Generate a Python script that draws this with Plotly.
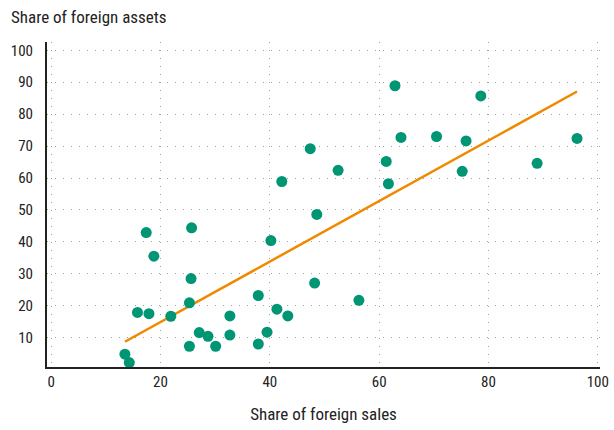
import plotly.graph_objects as go

sales = [13.5, 14.3, 15.8, 17.9, 17.4, 18.8, 21.9, 25.3, 25.3, 25.6, 25.7, 27.1,
         28.7, 30.1, 32.7, 32.7, 37.9, 37.9, 39.5, 40.2, 41.3, 43.3,
         48.6, 48.2, 56.3,
         62.9, 78.6, 47.4, 52.5, 64.0, 70.5, 75.9, 96.2, 61.3, 61.7, 75.2, 88.9,
         42.2]
assets = [4.8, 2.2, 17.9, 17.5, 42.9, 35.5, 16.7, 7.3, 20.9, 28.5, 44.4, 11.6,
          10.4, 7.3, 16.8, 10.8, 23.2, 8.0, 11.7, 40.4, 18.9, 16.8,
          48.6, 27.1, 21.7,
          88.9, 85.7, 69.2, 62.4, 72.7, 73.0, 71.6, 72.4, 65.2, 58.2, 62.1, 64.6,
          58.9]
trend_x = [13.5, 96.2]
trend_y = [8.7, 87.1]
x_ticks = [0, 20, 40, 60, 80, 100]
y_ticks = [10, 20, 30, 40, 50, 60, 70, 80, 90, 100]

FONT = "Roboto Condensed, Liberation Sans Narrow, sans-serif"

fig = go.Figure()
fig.add_trace(go.Scatter(x=trend_x, y=trend_y, mode="lines",
                         line=dict(color="#EF8A00", width=2.5), hoverinfo="skip"))
fig.add_trace(go.Scatter(x=sales, y=assets, mode="markers",
                         marker=dict(color="#009673", size=11, line=dict(width=0))))

grid = dict(showgrid=True, gridcolor="#a0a0a0", gridwidth=1, griddash="1px,7px")
fig.update_xaxes(range=[-0.75, 100.4], tickvals=x_ticks, ticks="", zeroline=False,
                 showline=True, linecolor="#222", linewidth=2, automargin=False,
                 tickfont=dict(size=15, color="#222", family=FONT),
                 title=dict(text="Share of foreign sales", font=dict(size=17, color="#222", family=FONT),
                            standoff=18),
                 **grid)
fig.update_yaxes(range=[0.8, 102.6], tickvals=y_ticks, ticks="", zeroline=False,
                 showline=True, linecolor="#222", linewidth=2, automargin=False,
                 tickfont=dict(size=15, color="#222", family=FONT), ticklabelstandoff=9,
                 **grid)
fig.update_layout(
    width=614, height=430,
    margin=dict(l=47, r=14, t=42, b=63),
    paper_bgcolor="white", plot_bgcolor="white",
    showlegend=False,
    annotations=[dict(text="Share of foreign assets", xref="paper", yref="paper",
                      x=-47/553, y=1 + 25/325, xanchor="left", yanchor="middle",
                      xshift=9, showarrow=False,
                      font=dict(size=17, color="#222", family=FONT))],
)
fig.write_html("out.html", config={"displayModeBar": False},
               post_script="document.body.style.margin='0';")
